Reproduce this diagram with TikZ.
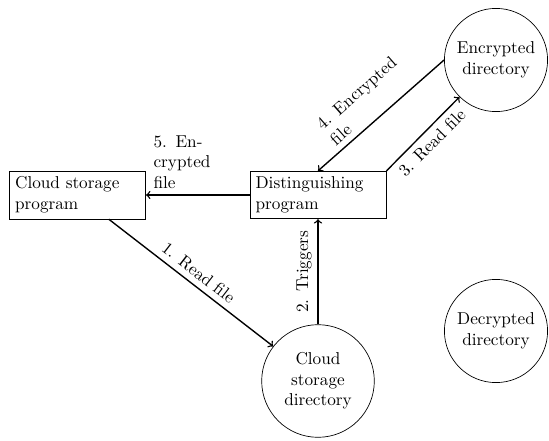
\documentclass[tikz,border=0pt]{standalone}
\begin{document}
\begin{tikzpicture}[x=0.5814pt,y=-0.5814pt,
  procbox/.style={draw, rectangle, text width=2.55cm, align=left, inner sep=0.333em},
  dirnode/.style={draw, circle, text width=1.6cm, align=center, minimum size=60pt, inner sep=0.333em},
  flow/.style={->, thick},
  lbl/.style={sloped}]
\useasboundingbox (0,0) rectangle (549,441);

% programs
\node[procbox] (csp) at (77.5,195) {Cloud storage program};
\node[procbox] (dp)  at (318,195)  {Distinguishing program};

% directories
\node[dirnode] (ed)  at (496,60)  {Encrypted directory};
\node[dirnode] (dd)  at (496,331) {Decrypted directory};
\node[dirnode] (csd) at (318,381) {Cloud storage directory};

% data flow
\draw[flow] (csp) -- node[lbl, above] {1. Read file} (csd);
\draw[flow] (csd) -- node[lbl, above] {2. Triggers} (dp);
\draw[flow] (dp.north east) -- node[lbl, below] {3. Read file} (ed);
\draw[flow] (ed.west) -- node[lbl, above, text width=2.2cm, align=left] {4. Encrypted file} (dp.north);
\draw[flow] (dp.west) -- node[above, pos=0.69, text width=1cm, align=justify] {5. Encrypted file} (csp.east);
\end{tikzpicture}
\end{document}
